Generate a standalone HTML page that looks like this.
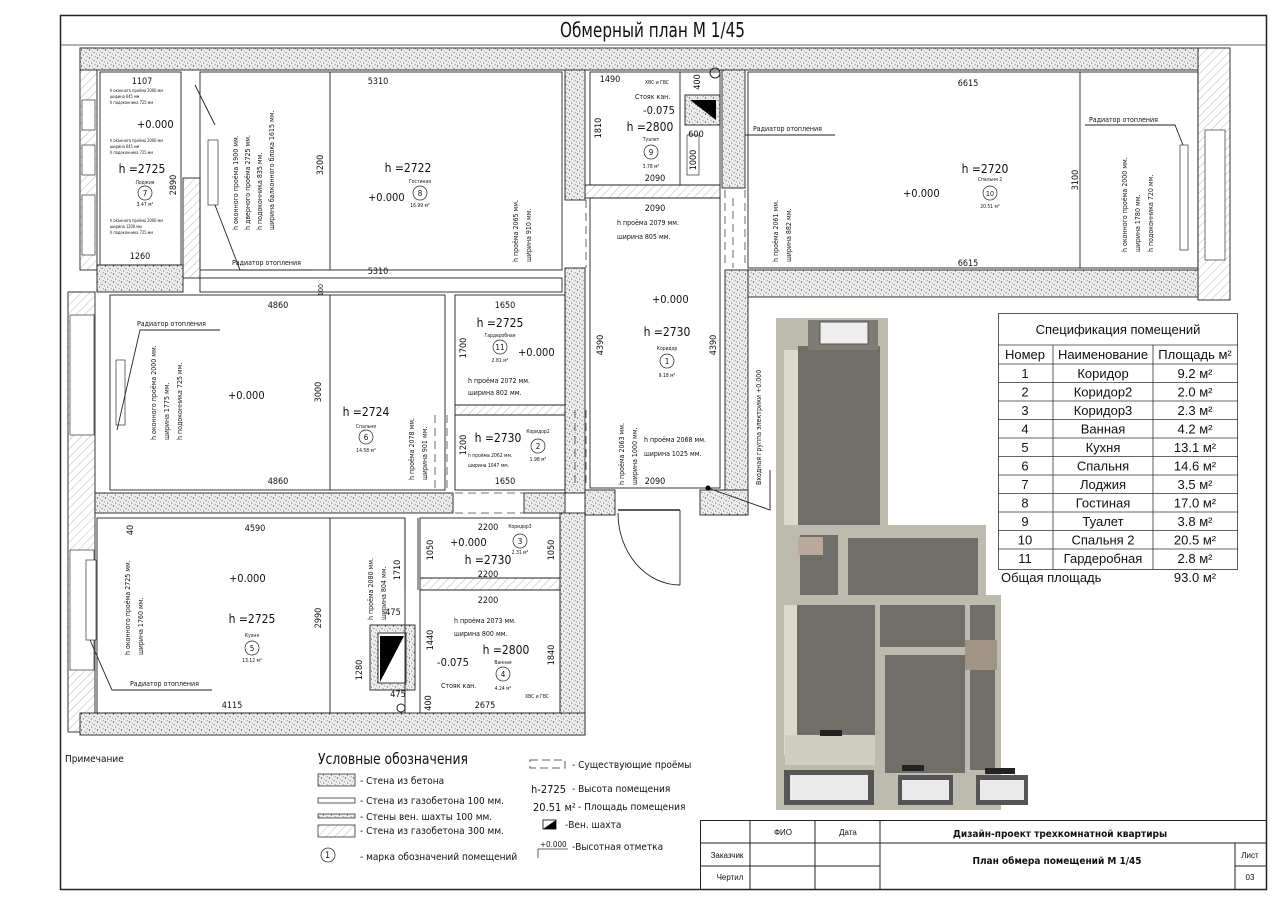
<!DOCTYPE html>
<html><head><meta charset="utf-8">
<style>
html,body{margin:0;padding:0;background:#fff;}
svg{display:block;}
text{font-family:"Liberation Sans Narrow","DejaVu Sans Condensed","Liberation Sans",sans-serif;fill:#111;}
.d{font-size:9px;text-anchor:middle;}
.s{font-size:7px;}
.xs{font-size:4px;}
.h{font-size:12px;text-anchor:middle;}
.n{font-size:5px;text-anchor:middle;}
</style></head><body>
<svg width="1280" height="905" viewBox="0 0 1280 905" xmlns="http://www.w3.org/2000/svg">
<defs>
<pattern id="c" width="8" height="8" patternUnits="userSpaceOnUse">
<rect width="8" height="8" fill="#ececec"/>
<circle cx="1.5" cy="2" r="0.6" fill="#222"/><circle cx="6" cy="4.5" r="0.55" fill="#333"/>
<circle cx="3.5" cy="7" r="0.5" fill="#333"/><circle cx="7.2" cy="0.8" r="0.45" fill="#444"/>
<circle cx="4.5" cy="3" r="0.35" fill="#555"/><circle cx="0.8" cy="5.5" r="0.4" fill="#444"/>
</pattern>
<pattern id="hh" width="6" height="6" patternUnits="userSpaceOnUse" patternTransform="rotate(45)">
<rect width="6" height="6" fill="#fff"/><line x1="0" y1="0" x2="0" y2="6" stroke="#999" stroke-width="0.7"/>
</pattern>
</defs>
<rect x="60.5" y="15.5" width="1206" height="874" fill="none" stroke="#222" stroke-width="1.5"/>
<text x="560" y="37" textLength="185" lengthAdjust="spacingAndGlyphs" style="font-size:20px">Обмерный план М 1/45</text>
<line x1="60" y1="45" x2="1266" y2="45" stroke="#333" stroke-width="0.8"/>

<g stroke="#222" stroke-width="0.9">
<rect x="80" y="48" width="17" height="222" fill="url(#hh)"/>
<rect x="68" y="292" width="27" height="440" fill="url(#hh)"/>
<rect x="1198" y="48" width="32" height="252" fill="url(#hh)"/>
<rect x="183" y="178" width="17" height="100" fill="url(#hh)"/>
<rect x="585" y="185" width="135" height="13" fill="url(#hh)"/>
<rect x="455" y="405" width="110" height="10" fill="url(#hh)"/>
<rect x="420" y="578" width="140" height="12" fill="url(#hh)"/>
<rect x="80" y="48" width="1118" height="22" fill="url(#c)"/>
<rect x="565" y="70" width="20" height="130" fill="url(#c)"/>
<rect x="565" y="268" width="20" height="225" fill="url(#c)"/>
<rect x="722" y="70" width="23" height="118" fill="url(#c)"/>
<rect x="745" y="270" width="453" height="27" fill="url(#c)"/>
<rect x="725" y="270" width="23" height="245" fill="url(#c)"/>
<rect x="585" y="490" width="30" height="25" fill="url(#c)"/>
<rect x="700" y="490" width="48" height="25" fill="url(#c)"/>
<rect x="97" y="265" width="86" height="27" fill="url(#c)"/>
<rect x="95" y="493" width="358" height="20" fill="url(#c)"/>
<rect x="524" y="493" width="41" height="20" fill="url(#c)"/>
<rect x="560" y="513" width="25" height="222" fill="url(#c)"/>
<rect x="80" y="713" width="505" height="22" fill="url(#c)"/>
<rect x="370" y="625" width="45" height="65" fill="url(#c)"/>
<rect x="378" y="633" width="28" height="50" fill="#fff"/>
<rect x="685" y="95" width="35" height="30" fill="url(#c)"/>
</g>
<polygon points="380,682 380,636 404,636" fill="#000"/>
<polygon points="690,100 716,100 716,120" fill="#000"/>
<g fill="#fff" stroke="#333" stroke-width="0.7">
<rect x="82" y="100" width="13" height="30"/><rect x="82" y="145" width="13" height="30"/><rect x="82" y="195" width="13" height="60"/>
<rect x="70" y="315" width="24" height="120"/><rect x="70" y="550" width="24" height="120"/>
<rect x="1205" y="130" width="20" height="130"/>
<rect x="208" y="140" width="10" height="65"/><rect x="86" y="560" width="10" height="80"/><rect x="116" y="360" width="9" height="65"/><rect x="1180" y="145" width="8" height="105"/>
<rect x="687" y="135" width="12" height="40"/>
</g>
<g stroke="#222" stroke-width="0.9" fill="none">
<rect x="100" y="72" width="81" height="193"/>
<rect x="200" y="72" width="362" height="198"/>
<rect x="200" y="278" width="362" height="14"/>
<rect x="110" y="295" width="335" height="195"/>
<rect x="455" y="295" width="110" height="110"/>
<rect x="455" y="415" width="110" height="75"/>
<rect x="590" y="72" width="130" height="113"/>
<rect x="590" y="198" width="130" height="290"/>
<rect x="748" y="72" width="450" height="196"/>
<rect x="97" y="518" width="308" height="195"/>
<rect x="420" y="518" width="140" height="60"/>
<rect x="420" y="590" width="140" height="123"/>
<line x1="405" y1="518" x2="405" y2="590"/><line x1="418" y1="518" x2="418" y2="590"/>
<line x1="330" y1="72" x2="330" y2="270"/><line x1="330" y1="295" x2="330" y2="490"/><line x1="330" y1="518" x2="330" y2="713"/>
<line x1="1080" y1="72" x2="1080" y2="268"/>
<line x1="680" y1="72" x2="680" y2="185"/>
<line x1="618" y1="510" x2="680" y2="510" stroke-width="1.5"/>
<line x1="680" y1="510" x2="680" y2="585"/>
<path d="M680 585 A 62 72 0 0 1 618 513"/>
<polyline points="215,205 240,270 312,270"/><polyline points="117,430 140,330 220,330"/><polyline points="90,640 112,690 212,690"/>
<polyline points="745,135 835,135"/><polyline points="1183,145 1175,125 1085,125"/>
<polyline points="708,488 770,510 770,470"/>
<line x1="195" y1="85" x2="215" y2="125"/>
</g>
<g stroke="#444" stroke-width="0.8" fill="none" stroke-dasharray="8,5">
<line x1="562" y1="200" x2="562" y2="268"/><line x1="586" y1="200" x2="586" y2="268"/>
<line x1="725" y1="190" x2="725" y2="268"/><line x1="745" y1="190" x2="745" y2="268"/>
<line x1="435" y1="415" x2="435" y2="490"/><line x1="447" y1="415" x2="447" y2="490"/>
<line x1="455" y1="493" x2="524" y2="493"/><line x1="455" y1="513" x2="524" y2="513"/>
<line x1="586" y1="410" x2="586" y2="488"/><line x1="575" y1="410" x2="575" y2="488"/>
<line x1="733" y1="198" x2="733" y2="268"/>
</g>
<g>
<text class="d" x="142" y="84">1107</text>
<text class="xs" x="110" y="92">h оконного проёма 2000 мм</text><text class="xs" x="110" y="98">ширина 645 мм</text><text class="xs" x="110" y="104">h подоконника 725 мм</text>
<text x="137" y="128" style="font-size:11px">+0.000</text>
<text class="xs" x="110" y="142">h оконного проёма 2000 мм</text><text class="xs" x="110" y="148">ширина 645 мм</text><text class="xs" x="110" y="154">h подоконника 725 мм</text>
<text class="h" x="142" y="173">h =2725</text><text class="n" x="145" y="184">Лоджия</text>
<circle cx="145" cy="193" r="7" fill="none" stroke="#222" stroke-width="0.7"/><text class="n" x="145" y="196" style="font-size:8px">7</text>
<text class="n" x="145" y="206">3.47 м²</text>
<text class="xs" x="110" y="222">h оконного проёма 2000 мм</text><text class="xs" x="110" y="228">ширина 1200 мм</text><text class="xs" x="110" y="234">h подоконника 725 мм</text>
<text class="d" x="140" y="259">1260</text>
<text class="d" transform="translate(176,185) rotate(-90)">2890</text>

<text class="d" x="378" y="84">5310</text><text class="d" x="378" y="274">5310</text>
<text class="d" transform="translate(323,165) rotate(-90)">3200</text>
<g class="s" transform="translate(238,230) rotate(-90)"><text x="0" y="0">h оконного проёма 1900 мм.</text><text x="0" y="12">h дверного проёма 2725 мм.</text><text x="0" y="24">h подоконника 835 мм.</text><text x="0" y="36">ширина балконного блока 1615 мм.</text></g>
<text class="s" x="232" y="265">Радиатор отопления</text>
<text class="h" x="408" y="172">h =2722</text><text class="n" x="420" y="183">Гостиная</text>
<circle cx="420" cy="193" r="7" fill="none" stroke="#222" stroke-width="0.7"/><text class="n" x="420" y="196" style="font-size:8px">8</text><text class="n" x="420" y="207">16.99 м²</text>
<text x="368" y="201" style="font-size:11px">+0.000</text>
<g class="s" transform="translate(518,262) rotate(-90)"><text>h проёма 2065 мм.</text><text y="13">ширина 910 мм.</text></g>
<text class="d" transform="translate(323,290) rotate(-90)" style="font-size:7px">100</text>

<text class="d" x="278" y="308">4860</text><text class="d" x="278" y="484">4860</text>
<text class="s" x="137" y="326">Радиатор отопления</text>
<g class="s" transform="translate(156,440) rotate(-90)"><text>h оконного проёма 2000 мм.</text><text y="13">ширина 1775 мм.</text><text y="26">h подоконника 725 мм.</text></g>
<text x="228" y="399" style="font-size:11px">+0.000</text>
<text class="d" transform="translate(321,392) rotate(-90)">3000</text>
<text class="h" x="366" y="416">h =2724</text><text class="n" x="366" y="428">Спальня</text>
<circle cx="366" cy="437" r="7" fill="none" stroke="#222" stroke-width="0.7"/><text class="n" x="366" y="440" style="font-size:8px">6</text><text class="n" x="366" y="452">14.58 м²</text>
<g class="s" transform="translate(414,480) rotate(-90)"><text>h проёма 2078 мм.</text><text y="13">ширина 901 мм.</text></g>

<text class="d" x="505" y="308">1650</text>
<text class="h" x="500" y="327">h =2725</text><text class="n" x="500" y="337">Гардеробная</text>
<circle cx="500" cy="347" r="7" fill="none" stroke="#222" stroke-width="0.7"/><text class="n" x="500" y="350" style="font-size:8px">11</text><text class="n" x="500" y="362">2.81 м²</text>
<text x="518" y="356" style="font-size:11px">+0.000</text>
<text class="d" transform="translate(466,348) rotate(-90)">1700</text>
<text class="s" x="468" y="383">h проёма 2072 мм.</text><text class="s" x="468" y="395">ширина 802 мм.</text>
<text class="h" x="498" y="442">h =2730</text><text class="n" x="538" y="433">Коридор2</text>
<circle cx="538" cy="446" r="7" fill="none" stroke="#222" stroke-width="0.7"/><text class="n" x="538" y="449" style="font-size:8px">2</text><text class="n" x="538" y="461">1.98 м²</text>
<text class="xs" x="468" y="457" style="font-size:5px">h проёма 2062 мм.</text><text class="xs" x="468" y="467" style="font-size:5px">ширина 1047 мм.</text>
<text class="d" transform="translate(466,445) rotate(-90)">1200</text>
<text class="d" x="505" y="484">1650</text>

<text class="d" x="610" y="82">1490</text><text class="xs" x="645" y="84" style="font-size:5px">ХВС и ГВС</text>
<text class="s" x="635" y="99">Стояк кан.</text><text x="643" y="114" style="font-size:11px">-0.075</text>
<text class="h" x="650" y="131">h =2800</text><text class="n" x="651" y="141">Туалет</text>
<circle cx="651" cy="152" r="7" fill="none" stroke="#222" stroke-width="0.7"/><text class="n" x="651" y="155" style="font-size:8px">9</text><text class="n" x="651" y="168">3.78 м²</text>
<text class="d" transform="translate(601,128) rotate(-90)">1810</text>
<text class="d" x="655" y="181">2090</text><text class="d" transform="translate(700,82) rotate(-90)">400</text>
<text class="d" x="696" y="137">600</text><text class="d" transform="translate(696,160) rotate(-90)">1000</text>
<circle cx="715" cy="73" r="5" fill="none" stroke="#222"/>

<text class="d" x="655" y="211">2090</text>
<text class="s" x="617" y="225">h проёма 2079 мм.</text><text class="s" x="617" y="239">ширина 805 мм.</text>
<text x="652" y="303" style="font-size:11px">+0.000</text>
<text class="h" x="667" y="336">h =2730</text><text class="n" x="667" y="350">Коридор</text>
<circle cx="667" cy="361" r="7" fill="none" stroke="#222" stroke-width="0.7"/><text class="n" x="667" y="364" style="font-size:8px">1</text><text class="n" x="667" y="377">9.18 м²</text>
<text class="d" transform="translate(603,345) rotate(-90)">4390</text><text class="d" transform="translate(716,345) rotate(-90)">4390</text>
<g class="s" transform="translate(624,485) rotate(-90)"><text>h проёма 2063 мм.</text><text y="13">ширина 1000 мм.</text></g>
<text class="s" x="644" y="442">h проёма 2068 мм.</text><text class="s" x="644" y="456">ширина 1025 мм.</text>
<text class="d" x="655" y="484">2090</text>
<circle cx="708" cy="488" r="2.5" fill="#000"/>
<text class="s" transform="translate(761,485) rotate(-90)">Входная группа электрики +0.000</text>

<text class="d" x="968" y="86">6615</text><text class="d" x="968" y="266">6615</text>
<text class="s" x="753" y="131">Радиатор отопления</text><text class="s" x="1089" y="122">Радиатор отопления</text>
<text class="h" x="985" y="173">h =2720</text><text class="n" x="990" y="181">Спальня 2</text>
<circle cx="990" cy="193" r="7" fill="none" stroke="#222" stroke-width="0.7"/><text class="n" x="990" y="196" style="font-size:7px">10</text><text class="n" x="990" y="208">20.51 м²</text>
<text x="903" y="197" style="font-size:11px">+0.000</text>
<text class="d" transform="translate(1078,180) rotate(-90)">3100</text>
<g class="s" transform="translate(1127,252) rotate(-90)"><text>h оконного проёма 2000 мм.</text><text y="13">ширина 1780 мм.</text><text y="26">h подоконника 720 мм.</text></g>
<g class="s" transform="translate(778,262) rotate(-90)"><text>h проёма 2061 мм.</text><text y="13">ширина 882 мм.</text></g>

<text class="d" x="255" y="531">4590</text><text class="d" transform="translate(133,530) rotate(-90)">40</text>
<text x="229" y="582" style="font-size:11px">+0.000</text>
<text class="h" x="252" y="623">h =2725</text><text class="n" x="252" y="637">Кухня</text>
<circle cx="252" cy="648" r="7" fill="none" stroke="#222" stroke-width="0.7"/><text class="n" x="252" y="651" style="font-size:8px">5</text><text class="n" x="252" y="662">13.12 м²</text>
<text class="d" transform="translate(321,618) rotate(-90)">2990</text>
<g class="s" transform="translate(130,655) rotate(-90)"><text>h оконного проёма 2725 мм.</text><text y="13">ширина 1760 мм.</text></g>
<text class="s" x="130" y="686">Радиатор отопления</text>
<text class="d" x="232" y="708">4115</text>
<g class="s" transform="translate(373,620) rotate(-90)"><text>h проёма 2080 мм.</text><text y="13">ширина 804 мм.</text></g>
<text class="d" transform="translate(400,570) rotate(-90)">1710</text>

<text class="d" x="488" y="530">2200</text><text class="n" x="520" y="528">Коридор3</text>
<circle cx="520" cy="541" r="7" fill="none" stroke="#222" stroke-width="0.7"/><text class="n" x="520" y="544" style="font-size:8px">3</text><text class="n" x="520" y="554">2.31 м²</text>
<text x="450" y="546" style="font-size:11px">+0.000</text><text class="h" x="488" y="564">h =2730</text>
<text class="d" transform="translate(433,550) rotate(-90)">1050</text><text class="d" transform="translate(554,550) rotate(-90)">1050</text>
<text class="d" x="488" y="577">2200</text><text class="d" x="488" y="603">2200</text>
<text class="s" x="454" y="623">h проёма 2073 мм.</text><text class="s" x="454" y="636">ширина 800 мм.</text>
<text class="h" x="506" y="654">h =2800</text><text class="n" x="503" y="664">Ванная</text>
<circle cx="503" cy="674" r="7" fill="none" stroke="#222" stroke-width="0.7"/><text class="n" x="503" y="677" style="font-size:8px">4</text><text class="n" x="503" y="690">4.24 м²</text>
<text x="437" y="666" style="font-size:11px">-0.075</text>
<text class="d" transform="translate(433,640) rotate(-90)">1440</text><text class="d" transform="translate(554,655) rotate(-90)">1840</text>
<text class="s" x="441" y="688">Стояк кан.</text><text class="xs" x="525" y="698" style="font-size:5px">ХВС и ГВС</text>
<text class="d" x="485" y="708">2675</text><text class="d" transform="translate(431,703) rotate(-90)">400</text>
<text class="d" x="393" y="615">475</text><text class="d" x="398" y="697">475</text>
<text class="d" transform="translate(362,670) rotate(-90)">1280</text>
<circle cx="401" cy="708" r="4" fill="none" stroke="#222"/>
</g>

<!-- 3D render -->
<g>
<rect x="776" y="318" width="112" height="212" fill="#bdbbad"/>
<rect x="798" y="346" width="82" height="182" fill="#6f6e68"/>
<rect x="784" y="350" width="14" height="178" fill="#dcdad0"/>
<rect x="808" y="320" width="70" height="30" fill="#7d7c74"/><rect x="820" y="322" width="48" height="22" fill="#eee" stroke="#555" stroke-width="1"/>
<rect x="776" y="525" width="210" height="78" fill="#bdbbad"/>
<rect x="800" y="535" width="38" height="62" fill="#6f6e68"/><rect x="848" y="538" width="130" height="58" fill="#6f6e68"/>
<rect x="798" y="537" width="25" height="18" fill="#b8a99a"/>
<rect x="776" y="595" width="225" height="215" fill="#bdbbad"/>
<rect x="797" y="605" width="78" height="160" fill="#6f6e68"/>
<rect x="784" y="605" width="13" height="150" fill="#dcdad0"/>
<rect x="880" y="605" width="85" height="42" fill="#6f6e68"/>
<rect x="885" y="655" width="80" height="118" fill="#6f6e68"/>
<rect x="970" y="605" width="25" height="165" fill="#6f6e68"/>
<rect x="965" y="640" width="32" height="30" fill="#a09485"/>
<rect x="785" y="735" width="90" height="30" fill="#d0cec0"/>
<rect x="784" y="770" width="90" height="35" fill="#555"/><rect x="790" y="775" width="78" height="25" fill="#eaeaea"/>
<rect x="898" y="775" width="55" height="30" fill="#555"/><rect x="902" y="780" width="47" height="20" fill="#eaeaea"/>
<rect x="976" y="775" width="52" height="30" fill="#555"/><rect x="980" y="780" width="44" height="20" fill="#eaeaea"/>
<rect x="902" y="765" width="22" height="6" fill="#222"/><rect x="985" y="768" width="30" height="6" fill="#222"/><rect x="820" y="730" width="22" height="6" fill="#222"/>
</g>

<!-- spec table -->
<g stroke="#333" stroke-width="0.8" fill="none">
<rect x="998.5" y="313.5" width="239" height="256"/>
<line x1="998" y1="345" x2="1238" y2="345"/>
<line x1="1053" y1="345" x2="1053" y2="569"/><line x1="1153" y1="345" x2="1153" y2="569"/>
<line x1="998" y1="364" x2="1238" y2="364"/><line x1="998" y1="382.5" x2="1238" y2="382.5"/><line x1="998" y1="401" x2="1238" y2="401"/><line x1="998" y1="419.5" x2="1238" y2="419.5"/><line x1="998" y1="438" x2="1238" y2="438"/><line x1="998" y1="456.5" x2="1238" y2="456.5"/><line x1="998" y1="475" x2="1238" y2="475"/><line x1="998" y1="493.5" x2="1238" y2="493.5"/><line x1="998" y1="512" x2="1238" y2="512"/><line x1="998" y1="530.5" x2="1238" y2="530.5"/><line x1="998" y1="549" x2="1238" y2="549"/>
</g>
<g text-anchor="middle" style="font-size:13px">
<text x="1118" y="334" style="font-family:'Liberation Sans',sans-serif">Спецификация помещений</text>
<text x="1025" y="359" style="font-family:'Liberation Sans',sans-serif">Номер</text><text x="1103" y="359" style="font-family:'Liberation Sans',sans-serif">Наименование</text><text x="1195" y="359" style="font-family:'Liberation Sans',sans-serif">Площадь м²</text>
<text x="1025" y="378" style="font-family:'Liberation Sans',sans-serif">1</text><text x="1103" y="378" style="font-family:'Liberation Sans',sans-serif">Коридор</text><text x="1195" y="378" style="font-family:'Liberation Sans',sans-serif">9.2 м²</text>
<text x="1025" y="396.5" style="font-family:'Liberation Sans',sans-serif">2</text><text x="1103" y="396.5" style="font-family:'Liberation Sans',sans-serif">Коридор2</text><text x="1195" y="396.5" style="font-family:'Liberation Sans',sans-serif">2.0 м²</text>
<text x="1025" y="415" style="font-family:'Liberation Sans',sans-serif">3</text><text x="1103" y="415" style="font-family:'Liberation Sans',sans-serif">Коридор3</text><text x="1195" y="415" style="font-family:'Liberation Sans',sans-serif">2.3 м²</text>
<text x="1025" y="433.5" style="font-family:'Liberation Sans',sans-serif">4</text><text x="1103" y="433.5" style="font-family:'Liberation Sans',sans-serif">Ванная</text><text x="1195" y="433.5" style="font-family:'Liberation Sans',sans-serif">4.2 м²</text>
<text x="1025" y="452" style="font-family:'Liberation Sans',sans-serif">5</text><text x="1103" y="452" style="font-family:'Liberation Sans',sans-serif">Кухня</text><text x="1195" y="452" style="font-family:'Liberation Sans',sans-serif">13.1 м²</text>
<text x="1025" y="470.5" style="font-family:'Liberation Sans',sans-serif">6</text><text x="1103" y="470.5" style="font-family:'Liberation Sans',sans-serif">Спальня</text><text x="1195" y="470.5" style="font-family:'Liberation Sans',sans-serif">14.6 м²</text>
<text x="1025" y="489" style="font-family:'Liberation Sans',sans-serif">7</text><text x="1103" y="489" style="font-family:'Liberation Sans',sans-serif">Лоджия</text><text x="1195" y="489" style="font-family:'Liberation Sans',sans-serif">3.5 м²</text>
<text x="1025" y="507.5" style="font-family:'Liberation Sans',sans-serif">8</text><text x="1103" y="507.5" style="font-family:'Liberation Sans',sans-serif">Гостиная</text><text x="1195" y="507.5" style="font-family:'Liberation Sans',sans-serif">17.0 м²</text>
<text x="1025" y="526" style="font-family:'Liberation Sans',sans-serif">9</text><text x="1103" y="526" style="font-family:'Liberation Sans',sans-serif">Туалет</text><text x="1195" y="526" style="font-family:'Liberation Sans',sans-serif">3.8 м²</text>
<text x="1025" y="544.5" style="font-family:'Liberation Sans',sans-serif">10</text><text x="1103" y="544.5" style="font-family:'Liberation Sans',sans-serif">Спальня 2</text><text x="1195" y="544.5" style="font-family:'Liberation Sans',sans-serif">20.5 м²</text>
<text x="1025" y="563" style="font-family:'Liberation Sans',sans-serif">11</text><text x="1103" y="563" style="font-family:'Liberation Sans',sans-serif">Гардеробная</text><text x="1195" y="563" style="font-family:'Liberation Sans',sans-serif">2.8 м²</text>
</g>
<text x="1001" y="582" style="font-family:'Liberation Sans',sans-serif;font-size:13px">Общая площадь</text>
<text x="1195" y="582" text-anchor="middle" style="font-family:'Liberation Sans',sans-serif;font-size:13px">93.0 м²</text>

<!-- legend -->
<text x="65" y="762" style="font-size:10px">Примечание</text>
<text x="318" y="764" textLength="150" lengthAdjust="spacingAndGlyphs" style="font-size:15px">Условные обозначения</text>
<g stroke="#333" stroke-width="0.8">
<rect x="318" y="774" width="37" height="12" fill="url(#c)"/>
<rect x="318" y="798" width="37" height="5" fill="#fff"/>
<rect x="318" y="814" width="37" height="4" fill="url(#c)"/>
<rect x="318" y="825" width="37" height="12" fill="url(#hh)"/>
<circle cx="328" cy="855" r="7" fill="none"/>
<rect x="530" y="760" width="35" height="8" fill="none" stroke-dasharray="8,4"/>
<line x1="538" y1="849" x2="568" y2="849"/><line x1="538" y1="849" x2="538" y2="858"/>
</g>
<polygon points="543,829 556,820 556,829" fill="#000"/><rect x="543" y="820" width="13" height="9" fill="none" stroke="#000" stroke-width="0.8"/>
<g style="font-size:10px">
<text x="360" y="784">- Стена из бетона</text>
<text x="360" y="804">- Стена из газобетона 100 мм.</text>
<text x="360" y="820">- Стены вен. шахты 100 мм.</text>
<text x="360" y="834">- Стена из газобетона 300 мм.</text>
<text x="325" y="858" style="font-size:9px">1</text>
<text x="360" y="860">- марка обозначений  помещений</text>
<text x="572" y="768">-  Существующие проёмы</text>
<text x="531" y="793" style="font-size:11px">h-2725</text><text x="572" y="792">- Высота помещения</text>
<text x="533" y="811" style="font-size:11px">20.51 м²</text><text x="578" y="810">- Площадь помещения</text>
<text x="565" y="828">-Вен. шахта</text>
<text x="540" y="847" style="font-size:8px">+0.000</text><text x="572" y="850">-Высотная отметка</text>
</g>

<!-- title block -->
<g stroke="#222" stroke-width="1" fill="none">
<rect x="700.5" y="820.5" width="566" height="69"/>
<line x1="700" y1="843" x2="1266" y2="843"/>
<line x1="700" y1="866" x2="880" y2="866"/><line x1="1235" y1="866" x2="1266" y2="866"/>
<line x1="750" y1="820" x2="750" y2="890"/><line x1="815" y1="820" x2="815" y2="890"/><line x1="880" y1="820" x2="880" y2="890"/><line x1="1235" y1="843" x2="1235" y2="890"/>
</g>
<g text-anchor="middle">
<text x="783" y="835" style="font-family:'Liberation Sans',sans-serif;font-size:8px">ФИО</text>
<text x="848" y="835" style="font-family:'Liberation Sans',sans-serif;font-size:8px">Дата</text>
<text x="727" y="858" style="font-family:'Liberation Sans',sans-serif;font-size:8px">Заказчик</text>
<text x="730" y="880" style="font-family:'Liberation Sans',sans-serif;font-size:8px">Чертил</text>
<text x="1250" y="858" style="font-family:'Liberation Sans',sans-serif;font-size:8px">Лист</text>
<text x="1250" y="880" style="font-family:'Liberation Sans',sans-serif;font-size:8px">03</text>
</g>
<text x="1060" y="837" text-anchor="middle" style="font-size:10px;font-weight:bold">Дизайн-проект трехкомнатной квартиры</text>
<text x="1057" y="864" text-anchor="middle" style="font-size:10px;font-weight:bold">План обмера помещений М 1/45</text>
</svg>
</body></html>
